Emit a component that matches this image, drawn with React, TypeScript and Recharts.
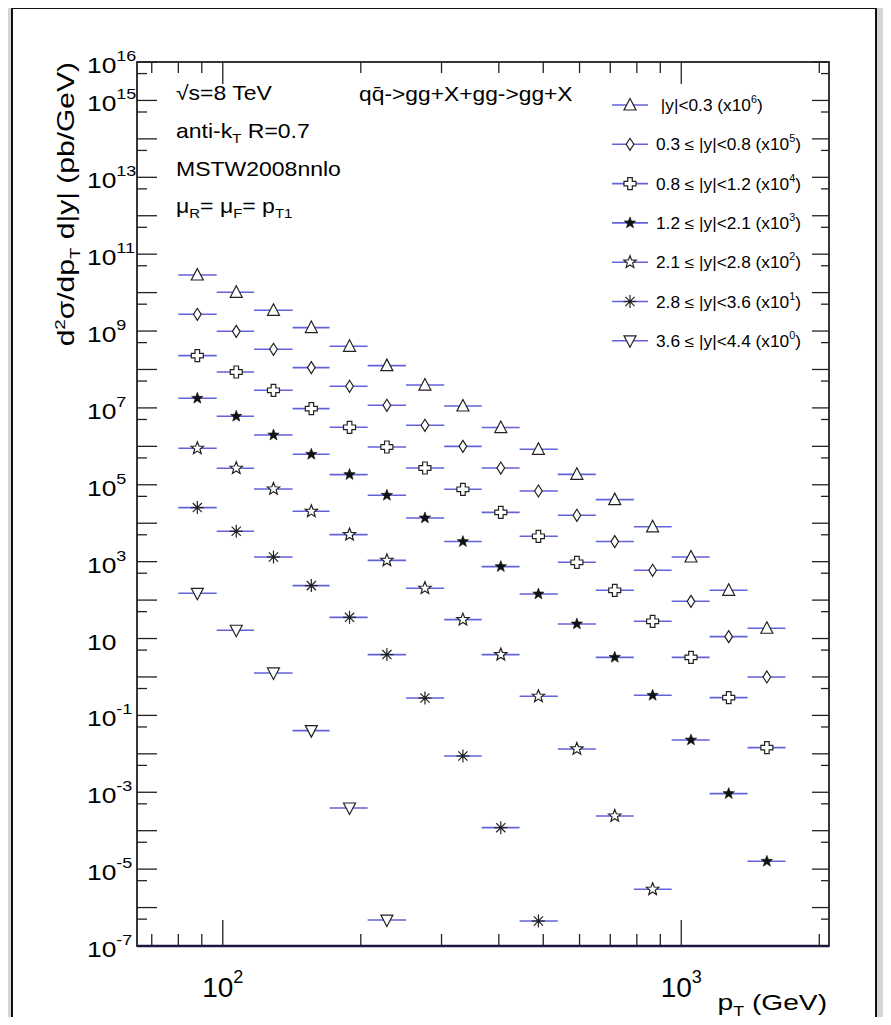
/**
 * Inclusive jet cross section vs pT in |y| bins (scaled), log-log
 */

import React from "react"
import { ScatterChart, Scatter, XAxis, YAxis, ErrorBar, Legend } from "recharts"

// bin centres and edges in pT (GeV)
const ptCenters = [88, 107, 129, 156, 189, 228, 276, 334, 404, 488, 592, 716, 866, 1050, 1269, 1537]
const binEdges = [80, 97, 117, 142, 171, 207, 251, 304, 367, 444, 538, 651, 788, 953, 1153, 1395, 1688]

// d2sigma/dpT d|y| in pb/GeV, before the legend scale factor
const xsY00 = [28700, 10200, 3470, 1230, 401, 126, 39.4, 11.2, 3.08, 0.838, 0.187, 0.0411, 0.00807, 0.00132, 0.00018, 0.0000185]
const xsY03 = [27300, 9840, 3350, 1120, 365, 117, 35.3, 10.0, 2.73, 0.689, 0.161, 0.0333, 0.00596, 0.000929, 0.000112, 0.00001]
const xsY08 = [23000, 8590, 2870, 960, 313, 96.2, 27.3, 7.62, 1.92, 0.457, 0.0962, 0.018, 0.00281, 0.000324, 0.000029, 0.00000145]
const xsY12 = [17800, 6050, 1970, 621, 184, 53.2, 13.7, 3.33, 0.743, 0.144, 0.0239, 0.00324, 0.000333, 0.0000229, 9.23e-7, 1.6e-8]
const xsY21 = [8890, 2690, 777, 204, 50.6, 10.8, 2.03, 0.31, 0.0382, 0.00314, 0.000134, 2.41e-6, 2.99e-8]
const xsY28 = [2550, 617, 132, 23.8, 3.56, 0.382, 0.0283, 0.000877, 0.000012, 4.47e-8]
const xsY36 = [150, 16.4, 1.27, 0.0402, 0.000389, 4.74e-7]

const scaleExps = [6, 5, 4, 3, 2, 1, 0]
const binLabels = [
  "\u00a0|y|<0.3",
  "0.3 \u2264 |y|<0.8",
  "0.8 \u2264 |y|<1.2",
  "1.2 \u2264 |y|<2.1",
  "2.1 \u2264 |y|<2.8",
  "2.8 \u2264 |y|<3.6",
  "3.6 \u2264 |y|<4.4",
]
const markerKinds = ["triUp", "diamond", "cross", "starFill", "starOpen", "asterisk", "triDown"]
const xsSets = [xsY00, xsY03, xsY08, xsY12, xsY21, xsY28, xsY36]

// axis ticks
const xTicks = [70, 80, 90, 100, 200, 300, 400, 500, 600, 700, 800, 900, 1000, 2000]
const yDecades = [-7, -6, -5, -4, -3, -2, -1, 0, 1, 2, 3, 4, 5, 6, 7, 8, 9, 10, 11, 12, 13, 14, 15, 16]
const yLabelExps = [16, 15, 13, 11, 9, 7, 5, 3, 1, -1, -3, -5, -7]
const yTicks = yDecades.flatMap((e) => (e < 16 ? [Math.pow(10, e), 5 * Math.pow(10, e)] : [Math.pow(10, e)]))

const W = 891
const H = 1025
const PL = 137
const PR = 829
const PT = 62
const PB = 946
const BAR = "#6262d9"
const INK = "#222"
const FONT = "'Liberation Sans', Arial, Helvetica, sans-serif"

const series = xsSets.map((vals, k) => ({
  name: binLabels[k],
  exp: scaleExps[k],
  kind: markerKinds[k],
  rows: vals.map((v, i) => ({
    pt: ptCenters[i],
    val: v * Math.pow(10, scaleExps[k]),
    ex: [ptCenters[i] - binEdges[i], binEdges[i + 1] - ptCenters[i]],
  })),
}))

function starPoints(cx: number, cy: number, ro: number, ri: number) {
  const pts: string[] = []
  for (let i = 0; i < 10; i++) {
    const r = i % 2 === 0 ? ro : ri
    const a = (-90 + i * 36) * (Math.PI / 180)
    pts.push(`${cx + r * Math.cos(a)},${cy + r * Math.sin(a)}`)
  }
  return pts.join(" ")
}

function Marker({ kind, cx, cy }: { kind: string; cx: number; cy: number }) {
  if (cx == null || cy == null) return null
  const st = { stroke: INK, strokeWidth: 1.2, fill: "#fff" }
  switch (kind) {
    case "triUp":
      return <polygon points={`${cx},${cy - 6.5} ${cx + 6},${cy + 5} ${cx - 6},${cy + 5}`} {...st} />
    case "triDown":
      return <polygon points={`${cx},${cy + 6.5} ${cx + 6},${cy - 5} ${cx - 6},${cy - 5}`} {...st} />
    case "diamond":
      return <polygon points={`${cx},${cy - 6} ${cx + 3.8},${cy} ${cx},${cy + 6} ${cx - 3.8},${cy}`} {...st} />
    case "cross": {
      const a = 6
      const b = 2.3
      const p = [
        [-b, -a], [b, -a], [b, -b], [a, -b], [a, b], [b, b],
        [b, a], [-b, a], [-b, b], [-a, b], [-a, -b], [-b, -b],
      ]
      return <polygon points={p.map(([dx, dy]) => `${cx + dx},${cy + dy}`).join(" ")} {...st} />
    }
    case "starFill":
      return <polygon points={starPoints(cx, cy, 6, 2.5)} fill="#111" stroke="#111" strokeWidth={0.6} />
    case "starOpen":
      return <polygon points={starPoints(cx, cy, 6.5, 2.8)} {...st} />
    case "asterisk": {
      const r = 6.5
      const d = r * 0.7071
      return (
        <g stroke={INK} strokeWidth={1.2}>
          <line x1={cx - r} y1={cy} x2={cx + r} y2={cy} />
          <line x1={cx} y1={cy - r} x2={cx} y2={cy + r} />
          <line x1={cx - d} y1={cy - d} x2={cx + d} y2={cy + d} />
          <line x1={cx - d} y1={cy + d} x2={cx + d} y2={cy - d} />
          <circle cx={cx} cy={cy} r={1.2} fill={INK} />
        </g>
      )
    }
    default:
      return null
  }
}

function YTick(props: any) {
  const { y, payload } = props
  const v = payload.value
  const e = Math.round(Math.log10(v))
  const major = Math.abs(v / Math.pow(10, e) - 1) < 1e-6
  const show = major && yLabelExps.includes(e)
  return (
    <g>
      <line x1={PL} x2={PL + (major ? 20 : 10)} y1={y} y2={y} stroke={INK} strokeWidth={1.3} />
      <line x1={PR} x2={PR - (major ? 17 : 8)} y1={y} y2={y} stroke={INK} strokeWidth={1.3} />
      {show && (
        <text transform={`translate(87,${y + 11}) scale(1.2,1)`} fontSize={22} fontFamily={FONT} fill="#000">
          10
          {e !== 1 && (
            <tspan dy={-12} fontSize={15}>
              {e}
            </tspan>
          )}
        </text>
      )}
    </g>
  )
}

function XTick(props: any) {
  const { x, payload } = props
  const v = payload.value
  const e = Math.round(Math.log10(v))
  const major = Math.abs(v / Math.pow(10, e) - 1) < 1e-6
  return (
    <g>
      <line x1={x} x2={x} y1={PB} y2={PB - (major ? 26 : 12)} stroke={INK} strokeWidth={1.3} />
      <line x1={x} x2={x} y1={PT} y2={PT + (major ? 22 : 11)} stroke={INK} strokeWidth={1.3} />
      {major && (
        <text x={x} y={997} textAnchor="middle" fontSize={28} fontFamily={FONT} fill="#000">
          10
          <tspan dy={-14} fontSize={18}>
            {e}
          </tspan>
        </text>
      )}
    </g>
  )
}

function LegendBox() {
  return (
    <svg width={240} height={280} style={{ display: "block" }}>
      {series.map((s, i) => {
        const y = 20 + i * 39.3
        return (
          <g key={s.name}>
            <line x1={12} x2={48} y1={y} y2={y} stroke={BAR} strokeWidth={1.6} />
            <Marker kind={s.kind} cx={30} cy={y} />
            <text transform={`translate(56,${y + 6}) scale(1.08,1)`} fontSize={16} fontFamily={FONT} fill="#000">
              {s.name} (x10
              <tspan dy={-8} fontSize={10}>
                {s.exp}
              </tspan>
              <tspan dy={8}>)</tspan>
            </text>
          </g>
        )
      })}
    </svg>
  )
}

export default function App() {
  return (
    <div style={{ position: "relative", width: W, height: H, margin: -8, background: "#d5d5d5", overflow: "hidden" }}>
      <div
        style={{
          position: "absolute",
          left: 11,
          top: 7,
          width: 866,
          height: 1060,
          background: "#fff",
          border: "2px solid #111",
          boxSizing: "border-box",
        }}
      />
      <div style={{ position: "absolute", left: 0, top: 0 }}>
        <ScatterChart width={W} height={H} margin={{ top: PT, right: W - PR, bottom: 0, left: 0 }}>
          <XAxis
            type="number"
            dataKey="pt"
            scale="log"
            domain={[65, 2100]}
            allowDataOverflow
            ticks={xTicks}
            interval={0}
            tick={<XTick />}
            tickLine={false}
            axisLine={false}
            height={H - PB}
          />
          <YAxis
            type="number"
            dataKey="val"
            scale="log"
            domain={[1e-7, 1e16]}
            allowDataOverflow
            ticks={yTicks}
            interval={0}
            tick={<YTick />}
            tickLine={false}
            axisLine={false}
            width={PL}
          />
          {series.map((s) => (
            <Scatter
              key={s.name}
              name={s.name}
              data={s.rows}
              isAnimationActive={false}
              shape={(p: any) => <Marker kind={s.kind} cx={p.cx} cy={p.cy} />}
            >
              <ErrorBar dataKey="ex" direction="x" width={0} stroke={BAR} strokeWidth={1.6} />
            </Scatter>
          ))}
          <Legend
            layout="vertical"
            align="center"
            verticalAlign="middle"
            content={() => <LegendBox />}
            wrapperStyle={{ left: 600, top: 85, width: 240, height: 280 }}
          />
        </ScatterChart>
      </div>
      <svg
        width={W}
        height={H}
        style={{ position: "absolute", left: 0, top: 0, pointerEvents: "none" }}
        fontFamily={FONT}
      >
        <rect x={PL} y={PT} width={PR - PL} height={PB - PT} fill="none" stroke={INK} strokeWidth={1.8} />
        <line x1={PL} x2={PR} y1={PB} y2={PB} stroke="#1a1a40" strokeWidth={2.4} />

        <text transform={`translate(74,${PT}) rotate(-90) scale(1.25,1)`} textAnchor="end" fontSize={24} fill="#000">
          d<tspan dy={-9} fontSize={15}>2</tspan>
          <tspan dy={9}>σ/dp</tspan>
          <tspan dy={6} fontSize={15}>T</tspan>
          <tspan dy={-6}> d|y| (pb/GeV)</tspan>
        </text>

        <text transform="translate(827,1010) scale(1.28,1)" textAnchor="end" fontSize={22} fill="#000">
          p<tspan dy={6} fontSize={14}>T</tspan>
          <tspan dy={-6}> (GeV)</tspan>
        </text>

        <g fontSize={20} fill="#000">
          <text transform="translate(176,100) scale(1.15,1)">√s=8 TeV</text>
          <text transform="translate(176,138) scale(1.15,1)">
            anti-k<tspan dy={5} fontSize={13}>T</tspan>
            <tspan dy={-5}> R=0.7</tspan>
          </text>
          <text transform="translate(176,176) scale(1.15,1)">MSTW2008nnlo</text>
          <text transform="translate(176,213) scale(1.15,1)">
            μ<tspan dy={5} fontSize={13}>R</tspan>
            <tspan dy={-5}>= μ</tspan>
            <tspan dy={5} fontSize={13}>F</tspan>
            <tspan dy={-5}>= p</tspan>
            <tspan dy={5} fontSize={13}>T1</tspan>
          </text>
          <text transform="translate(359,101) scale(1.14,1)">q{"q\u0304"}-&gt;gg+X+gg-&gt;gg+X</text>
        </g>
      </svg>
    </div>
  )
}
